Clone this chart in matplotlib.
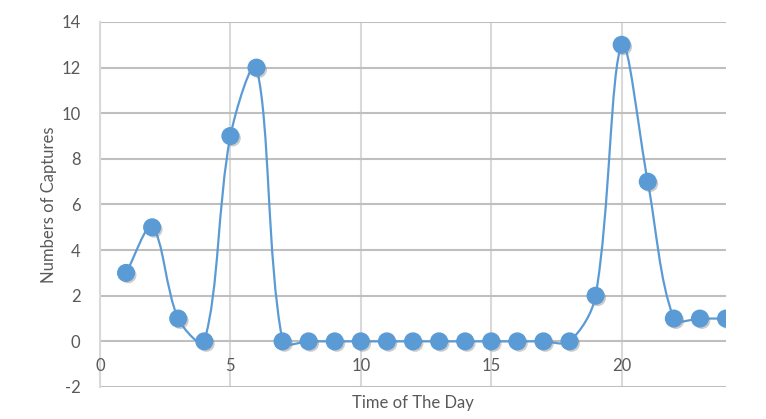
import matplotlib
matplotlib.use("Agg")
import matplotlib.pyplot as plt
import matplotlib.patches as patches
import matplotlib.patheffects as pe
from matplotlib.path import Path
import numpy as np

# data
hours = [1, 2, 3, 4, 5, 6, 7, 8, 9, 10, 11, 12, 13, 14, 15, 16, 17, 18,
         19, 20, 21, 22, 23, 24]
captures = [3, 5, 1, 0, 9, 12, 0, 0, 0, 0, 0, 0, 0, 0, 0, 0, 0, 0,
            2, 13, 7, 1, 1, 1]

blue = '#5B9BD5'
txt = '#595959'

plt.rcParams['font.family'] = ['Lato', 'DejaVu Sans']
plt.rcParams['axes.unicode_minus'] = False

fig = plt.figure(figsize=(7.66, 4.19), dpi=100)
ax = fig.add_axes([0.1305, 0.0764, 0.9478 - 0.1305, 0.9475 - 0.0764])

# smooth line like excel: bezier handles parallel to the neighbour chord,
# split in proportion to the adjacent segment lengths (screen-ish units)
sx, sy = 26.0, 22.8
pts = np.column_stack([np.array(hours) * sx, np.array(captures) * sy]).astype(float)
n = len(pts)


def handle(i, j):
    # control point leaving point i towards neighbour j
    a = pts[max(i - 1, 0)]
    b = pts[min(i + 1, n - 1)]
    d_prev = np.hypot(*(pts[i] - a))
    d_next = np.hypot(*(b - pts[i]))
    tot = d_prev + d_next
    if tot == 0:
        return pts[i].copy()
    if j > i:
        return pts[i] + (b - a) * (d_next / tot) / 3.0
    return pts[i] - (b - a) * (d_prev / tot) / 3.0


verts = [pts[0]]
codes = [Path.MOVETO]
for i in range(n - 1):
    verts += [handle(i, i + 1), handle(i + 1, i), pts[i + 1]]
    codes += [Path.CURVE4] * 3
verts = np.array(verts) / [sx, sy]
curve = patches.PathPatch(Path(verts, codes), facecolor='none', edgecolor=blue,
                          lw=1.6, zorder=3)
ax.add_patch(curve)

ax.plot(hours, captures, ls='none', marker='o', ms=12, color=blue,
        mec=blue, zorder=4,
        path_effects=[pe.SimplePatchShadow(offset=(1.5, -1.5), shadow_rgbFace='#808080', alpha=0.4),
                      pe.Normal()])

ax.set_xlim(0, 24)
ax.set_ylim(-2, 14)
ax.set_yticks(np.arange(-2, 15, 2))
ax.set_xticks([0, 5, 10, 15, 20])

ax.grid(axis='y', color='#bfbfbf', lw=1.5, zorder=0)
ax.grid(axis='x', color='#d9d9d9', lw=1.5, zorder=0)
ax.set_axisbelow(True)
for s in ['top', 'right', 'bottom']:
    ax.spines[s].set_visible(False)
ax.spines['left'].set_color('#d9d9d9')
ax.spines['left'].set_linewidth(1.5)

ax.tick_params(axis='both', length=0, labelsize=12, labelcolor=txt)
ax.tick_params(axis='y', pad=14)

# x labels sit just under the zero line
ax.set_xticklabels([])
for t in [0, 5, 10, 15, 20]:
    ax.annotate(str(t), xy=(t, 0), xytext=(0, -12), textcoords='offset points',
                ha='center', va='top', fontsize=12, color=txt)

ax.set_xlabel('Time of The Day', fontsize=12, color=txt, labelpad=2)
ax.set_ylabel('Numbers of Captures', fontsize=12, color=txt, labelpad=3)

fig.savefig('out.png', dpi=100)
